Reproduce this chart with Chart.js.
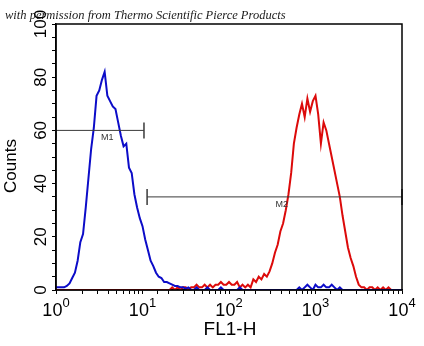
<!DOCTYPE html>
<html>
<head>
<meta charset="utf-8">
<script src="https://cdn.jsdelivr.net/npm/chart.js@4"></script>
<style>
html, body { margin: 0; padding: 0; background: #fff; }
#wrap { width: 424px; height: 346px; }
</style>
</head>
<body>
<div id="wrap"><canvas id="histChart" width="424" height="346"></canvas></div>
<script>
// channels: 1024 channels over 4 decades, read every 8th channel
const channels = Array.from({ length: 129 }, (_, i) => i * 8);

// counts (blue = control, red = stained)
const blueCounts = [
    1, 1, 1, 1, 1.5, 2.5, 4.5, 6.5,
    11, 18, 21, 31, 42, 53, 61, 73,
    75, 79, 82, 73, 71, 69, 68, 63,
    58, 54, 55, 46, 44, 36, 31, 27,
    24, 19, 15, 11, 9, 6.5, 5, 4.5,
    3, 3, 2.5, 2, 1.5, 1.5, 1, 1,
    0.5, 1, 0, 0, 1, 0, 0, 0,
    1, 0, 0, 0, 0, 1, 0, 0,
    0, 0, 0, 0, 1, 0, 0, 0,
    0, 0, 0, 0, 0, 0, 0, 0,
    0, 0, 0, 0, 0, 0, 0, 0,
    0, 0, 1, 0, 1, 2, 1, 0,
    2, 1, 1, 2, 1, 1, 2, 1,
    0, 1, 0, 0, 0, 0, 0, 0,
    0, 0, 0, 0, 0, 0, 0, 0,
    0, 0, 0, 0, 0, 0, 0, 0,
    0
];
const redCounts = [
    0, 0, 0, 0, 0, 0, 0, 0,
    0, 0, 0, 0, 0, 0, 0, 0,
    0, 0, 0, 0, 0, 0, 0, 0,
    0, 0, 0, 0, 0, 0, 0, 0,
    0, 0, 0, 0, 0, 0, 0, 0,
    0, 0, 0, 1, 0, 1, 0, 1,
    1, 0, 1, 1, 2, 1, 1, 2,
    1, 2, 1, 2, 2, 3, 2, 2,
    3, 2, 2, 3, 1, 2, 1, 2,
    1, 4, 3, 5, 4, 6, 5, 7,
    10, 14, 17, 22, 25, 30, 36, 44,
    55, 61, 66, 70, 65, 72, 67, 71,
    73, 66, 55, 63, 60, 55, 50, 45,
    40, 35, 28, 22, 16, 12, 9, 5,
    2, 1, 1, 0, 1, 1, 0, 1,
    0, 1, 0, 1, 0, 0, 0, 0,
    0
];

// marker gates
const gateNames = ['M1', 'M2'];
const gateStart = [1, 11.3];
const gateEnd = [10.4, 10000];
const gateLevel = [60, 35];

// axis labels
const xTickExponents = [0, 1, 2, 3, 4];
const yTickLabels = [0, 20, 40, 60, 80, 100];
const noteText = 'with permission from Thermo Scientific Pierce Products';

const toPoints = counts => channels.map((c, i) => ({ x: Math.pow(10, c / 256), y: counts[i] }));

const datasets = [];
gateNames.forEach((name, i) => {
    datasets.push({
        label: name,
        data: [{ x: gateStart[i], y: gateLevel[i] }, { x: gateEnd[i], y: gateLevel[i] }],
        borderColor: '#3a3a3a',
        borderWidth: 1,
        pointStyle: 'line',
        rotation: 90,
        pointRadius: 8,
        pointBorderColor: '#3a3a3a',
        pointBorderWidth: 1.5,
        clip: false
    });
});
datasets.push({
    label: 'control',
    data: toPoints(blueCounts),
    borderColor: '#0c0cc8',
    borderWidth: 2,
    pointRadius: 0,
    tension: 0
});
datasets.push({
    label: 'stained',
    data: toPoints(redCounts),
    borderColor: '#dc0a0a',
    borderWidth: 2,
    pointRadius: 0,
    tension: 0
});

const textPlugin = {
    id: 'textPlugin',
    afterDraw(chart) {
        const ctx = chart.ctx;
        const xs = chart.scales.x;
        const ys = chart.scales.y;
        const a = chart.chartArea;
        ctx.save();

        // frame
        ctx.strokeStyle = '#000';
        ctx.lineWidth = 1.5;
        ctx.strokeRect(a.left, a.top, a.right - a.left, a.bottom - a.top);

        // note on top
        ctx.fillStyle = '#1a1a1a';
        ctx.font = 'italic 12.5px "Liberation Serif"';
        ctx.textAlign = 'left';
        ctx.textBaseline = 'alphabetic';
        ctx.fillText(noteText, 5, 19);

        // y tick labels, rotated
        ctx.fillStyle = '#000';
        ctx.font = '17px "Liberation Sans"';
        ctx.textAlign = 'center';
        yTickLabels.forEach(v => {
            ctx.save();
            ctx.translate(46, ys.getPixelForValue(v));
            ctx.rotate(-Math.PI / 2);
            ctx.fillText(String(v), 0, 0);
            ctx.restore();
        });

        // y title
        ctx.save();
        ctx.translate(16, 166);
        ctx.rotate(-Math.PI / 2);
        ctx.fillText('Counts', 0, 0);
        ctx.restore();

        // x tick labels 10^n
        xTickExponents.forEach(e => {
            const px = xs.getPixelForValue(Math.pow(10, e));
            ctx.font = '18px "Liberation Sans"';
            const wBase = ctx.measureText('10').width;
            ctx.font = '13px "Liberation Sans"';
            const wSup = ctx.measureText(String(e)).width;
            const x0 = px - (wBase + wSup) / 2;
            ctx.textAlign = 'left';
            ctx.font = '18px "Liberation Sans"';
            ctx.fillText('10', x0, 316);
            ctx.font = '13px "Liberation Sans"';
            ctx.fillText(String(e), x0 + wBase, 307);
        });

        // x title
        ctx.font = '19px "Liberation Sans"';
        ctx.textAlign = 'center';
        ctx.fillText('FL1-H', 230, 335);

        // gate labels
        ctx.font = '9px "Liberation Sans"';
        ctx.fillStyle = '#333';
        ctx.textAlign = 'left';
        ctx.textBaseline = 'top';
        gateNames.forEach((name, i) => {
            const mid = Math.sqrt(gateStart[i] * gateEnd[i]);
            ctx.fillText(name, xs.getPixelForValue(mid) + 1, ys.getPixelForValue(gateLevel[i]) + 3);
        });

        ctx.restore();
    }
};

const ctx = document.getElementById('histChart').getContext('2d');
new Chart(ctx, {
    type: 'line',
    data: { datasets: datasets },
    options: {
        responsive: false,
        animation: false,
        layout: { padding: { left: 0, right: 22, top: 24, bottom: 0 } },
        plugins: {
            legend: { display: false },
            tooltip: { enabled: false }
        },
        scales: {
            x: {
                type: 'logarithmic',
                min: 1,
                max: 10000,
                ticks: { display: false },
                grid: { drawOnChartArea: false, drawTicks: true, tickLength: 4, color: '#000' },
                border: { display: true, color: '#000', width: 1.5 },
                afterFit(s) { s.height = 56; }
            },
            y: {
                type: 'linear',
                min: 0,
                max: 100,
                ticks: { display: false, stepSize: 5 },
                grid: { drawOnChartArea: false, drawTicks: true, tickLength: 4, color: '#000' },
                border: { display: true, color: '#000', width: 1.5 },
                afterFit(s) { s.width = 56; }
            }
        }
    },
    plugins: [textPlugin]
});
</script>
</body>
</html>
